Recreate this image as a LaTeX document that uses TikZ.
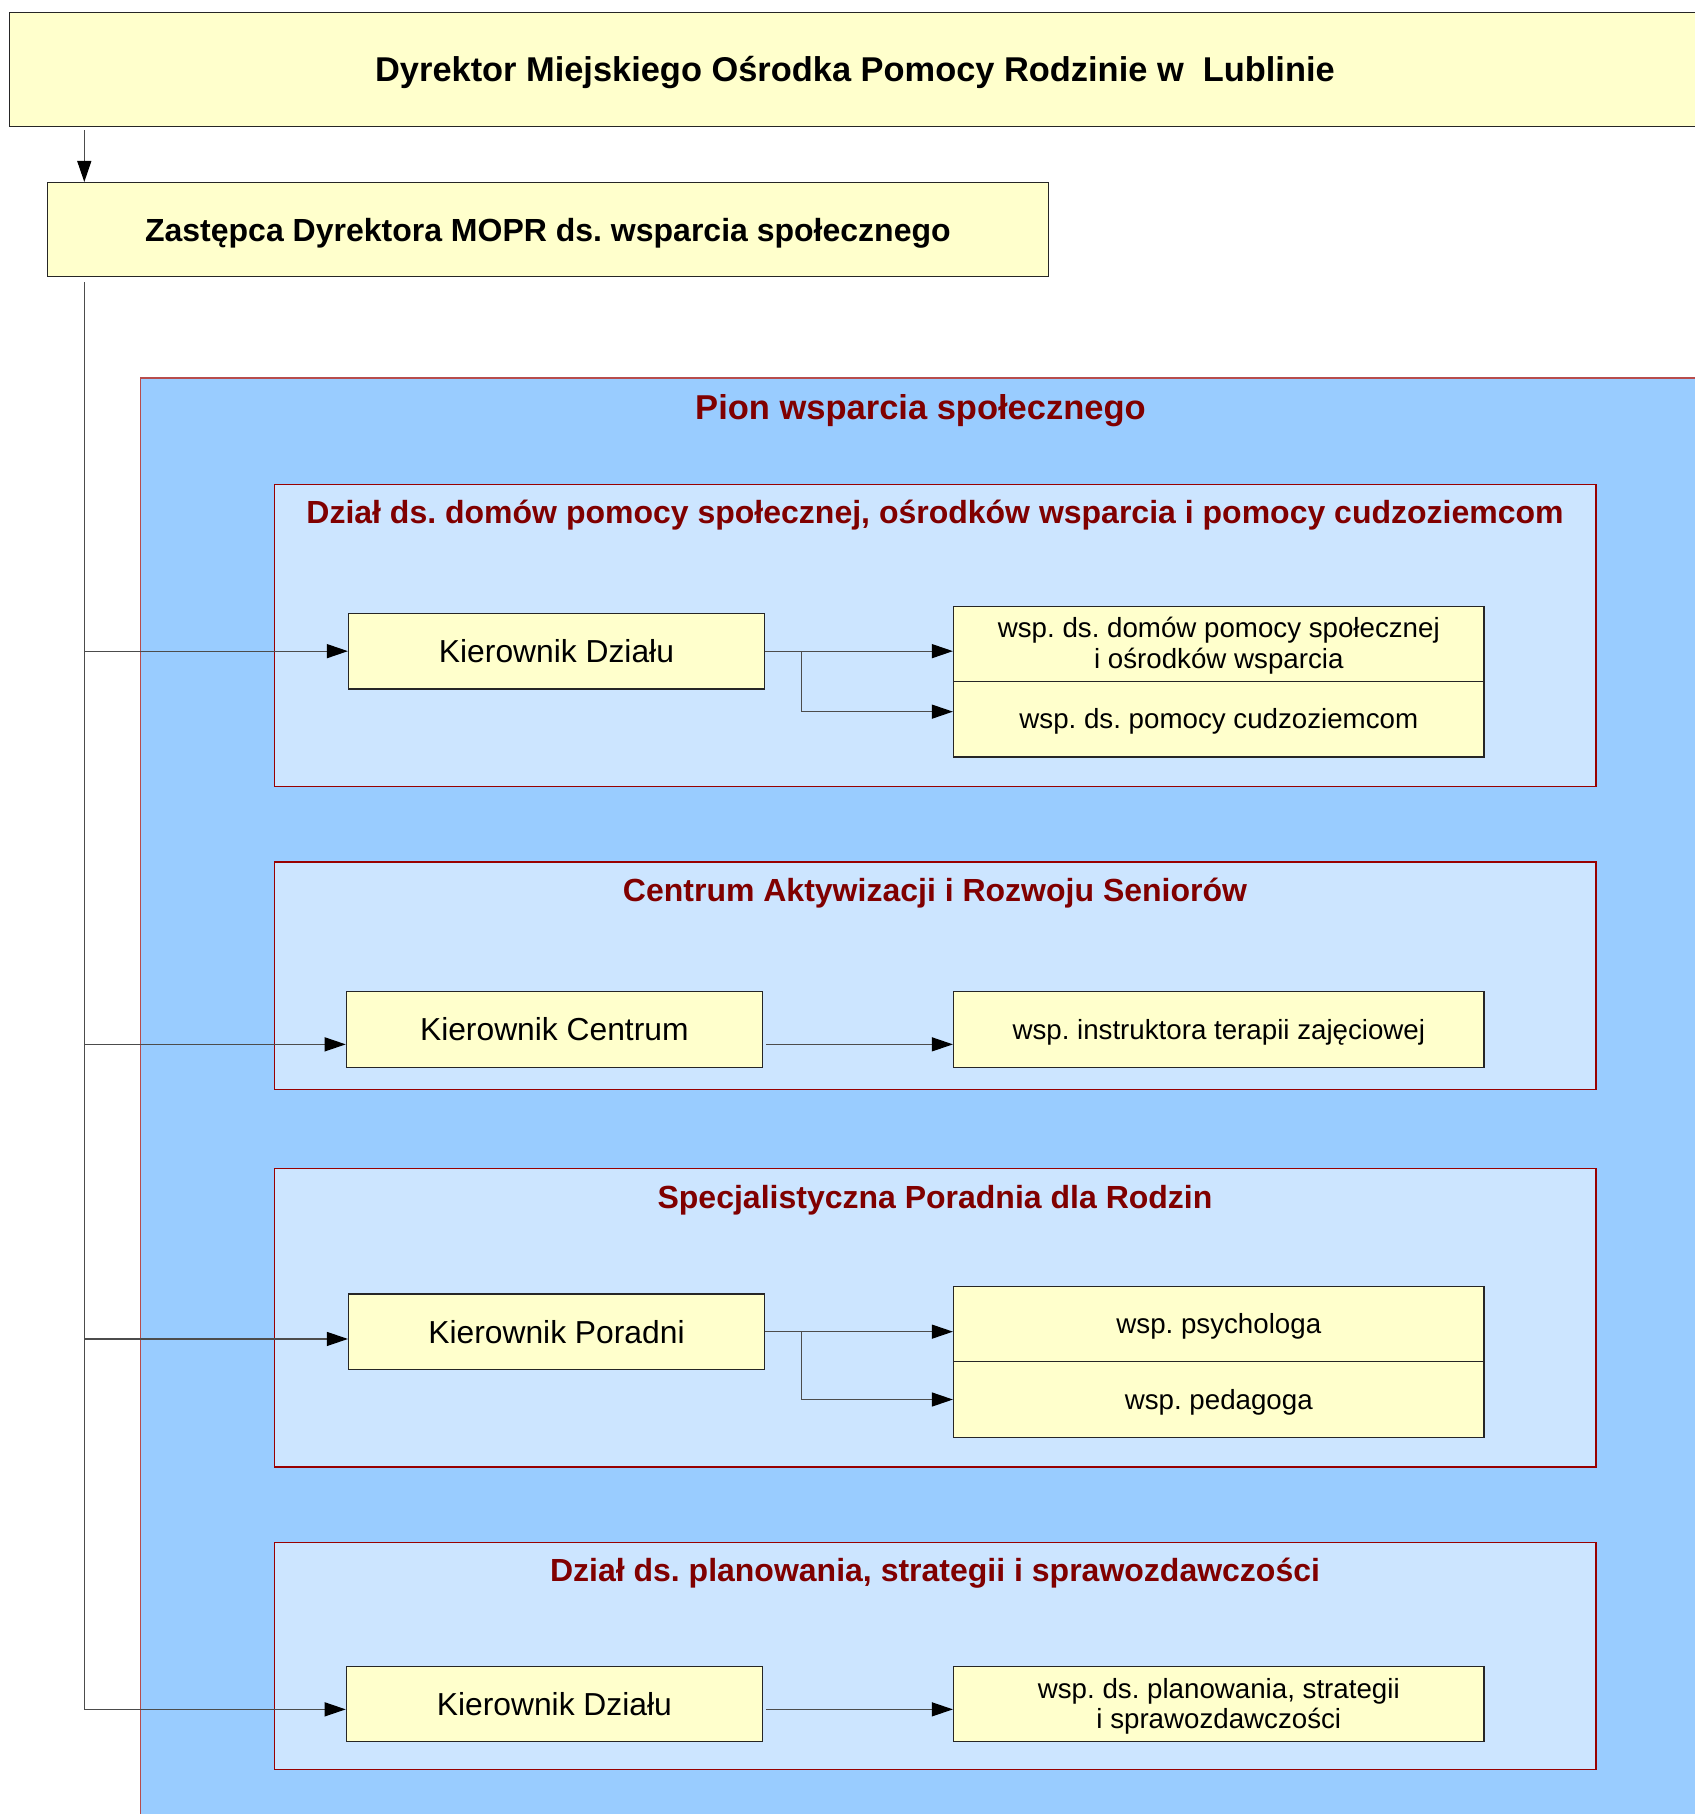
\documentclass[tikz,border=0pt]{standalone}
\usepackage{fontspec}
\setmainfont{Liberation Sans}
\usetikzlibrary{arrows.meta}
\definecolor{boxyellow}{HTML}{FFFFCC}
\definecolor{pionblue}{HTML}{99CCFF}
\definecolor{secblue}{HTML}{CCE5FF}
\definecolor{titlered}{HTML}{800000}
\definecolor{secborder}{HTML}{990000}
\frenchspacing
\begin{document}
\frenchspacing
\begin{tikzpicture}[x=1pt,y=-1pt,
  ybox/.style={draw=black!85, line width=1.3pt, fill=boxyellow, inner sep=0pt, anchor=north west, align=center},
  secbox/.style={draw=secborder, line width=1.4pt, fill=secblue},
  sectitle/.style={anchor=base, text=titlered, font=\bfseries\fontsize{32}{38}\selectfont},
  kfont/.style={font=\fontsize{31.8}{36}\selectfont},
  rfont/.style={font=\fontsize{27.7}{30.5}\selectfont},
  rone/.style={rfont, text height=24pt, text depth=4.6pt},
  conn/.style={draw=black!70, line width=1.2pt, -{Triangle[length=21pt,width=14pt,color=black]}},
  plain/.style={draw=black!70, line width=1.2pt}]
\useasboundingbox (0,0) rectangle (1694,1814);
\fill[white] (0,0) rectangle (1694,1814);

% top boxes
\node[ybox, minimum width=1691.4pt, minimum height=114pt, text height=33pt, text depth=8pt, font=\bfseries\fontsize{34.4}{40}\selectfont] (dyr) at (8.6,11.7) {Dyrektor Miejskiego Ośrodka Pomocy Rodzinie w\ \ Lublinie};
\node[ybox, minimum width=1001.5pt, minimum height=94pt, text height=31pt, text depth=7pt, font=\bfseries\fontsize{32}{38}\selectfont] (zast) at (46.5,182) {Zastępca Dyrektora MOPR ds. wsparcia społecznego};

% pion
\fill[pionblue] (140.5,378) rectangle (1710,1830);
\draw[draw=secborder!70, line width=1.2pt] (140.5,1830) -- (140.5,378) -- (1710,378);
\node[anchor=base, text=titlered, font=\bfseries\fontsize{34.5}{40}\selectfont] (piont) at (920.5,419.3) {Pion wsparcia społecznego};

% sections
\draw[secbox] (274.4,484.3) rectangle (1595.8,786.7);
\draw[secbox] (274.4,862) rectangle (1595.8,1089.3);
\draw[secbox] (274.4,1168.3) rectangle (1595.8,1467);
\draw[secbox] (274.4,1542.7) rectangle (1595.8,1769.3);
\node[sectitle] (s1t) at (935,523.5) {Dział ds. domów pomocy społecznej, ośrodków wsparcia i pomocy cudzoziemcom};
\node[sectitle] (s2t) at (935,901.5) {Centrum Aktywizacji i Rozwoju Seniorów};
\node[sectitle] (s3t) at (935,1208) {Specjalistyczna Poradnia dla Rodzin};
\node[sectitle] (s4t) at (935,1581.5) {Dział ds. planowania, strategii i sprawozdawczości};

% section 1
\node[ybox, kfont, minimum width=415.9pt, minimum height=75.6pt] (k1) at (347.9,612.7) {Kierownik Działu};
\node[ybox, rfont, minimum width=530.5pt, minimum height=75pt] (r1a) at (952.9,605.7) {\rule{0pt}{24pt}wsp. ds. domów pomocy społecznej\\i ośrodków wsparcia};
\node[ybox, rone, minimum width=530.5pt, minimum height=75.6pt] (r1b) at (952.9,680.7) {wsp. ds. pomocy cudzoziemcom};

% section 2
\node[ybox, kfont, minimum width=416pt, minimum height=76pt] (k2) at (345.7,990.7) {Kierownik Centrum};
\node[ybox, rone, minimum width=530.5pt, minimum height=76pt] (r2) at (952.9,990.7) {wsp. instruktora terapii zajęciowej};

% section 3
\node[ybox, kfont, minimum width=415.9pt, minimum height=75.4pt] (k3) at (347.9,1293.3) {Kierownik Poradni};
\node[ybox, rone, minimum width=530.5pt, minimum height=75.3pt] (r3a) at (952.9,1285.7) {wsp. psychologa};
\node[ybox, rone, minimum width=530.5pt, minimum height=75.7pt] (r3b) at (952.9,1361) {wsp. pedagoga};

% section 4
\node[ybox, kfont, minimum width=416pt, minimum height=75pt] (k4) at (345.7,1666) {Kierownik Działu};
\node[ybox, rfont, minimum width=530.5pt, minimum height=75pt] (r4) at (952.9,1666) {\rule{0pt}{24pt}wsp. ds. planowania, strategii\\i sprawozdawczości};

% connector helpers
\coordinate (tx) at (84.3,0);
\coordinate (ex) at (801.7,0);
\coordinate (b1) at (k1.west);
\coordinate (b2) at ([yshift=-15pt]k2.west);
\coordinate (b3) at ([yshift=-7.3pt]k3.west);
\coordinate (b4) at ([yshift=-5.2pt]k4.west);
\coordinate (e1) at ([yshift=7.5pt]r1b.west);

% connectors
\draw[conn, shorten <=3.3pt] (dyr.south -| tx) -- (zast.north -| tx);
\draw[plain, shorten <=5pt] (zast.south -| tx) -- (b4 -| tx);
\draw[conn] (b1 -| tx) -- (b1);
\draw[conn] (b2 -| tx) -- (b2);
\draw[conn] (b3 -| tx) -- (b3);
\draw[conn] (b4 -| tx) -- (b4);

\draw[conn] (k1.east) -- (k1.east -| r1a.west);
\draw[conn] (k1.east -| ex) |- (e1);
\draw[conn, shorten <=3pt] (b2 -| k2.east) -- (b2 -| r2.west);
\draw[conn] (k3.east) -- (k3.east -| r3a.west);
\draw[conn] (k3.east -| ex) |- (r3b.west);
\draw[conn, shorten <=3pt] (b4 -| k4.east) -- (b4 -| r4.west);
\end{tikzpicture}
\end{document}
